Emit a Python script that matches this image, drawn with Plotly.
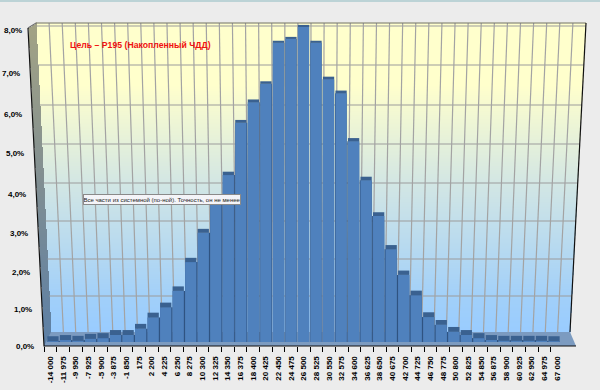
import numpy as np
import plotly.graph_objects as go

# ---- data ----
CATEGORIES = ["-14 000", "-11 975", "-9 950", "-7 925", "-5 900", "-3 875", "-1 850", "175", "2 200", "4 225",
              "6 250", "8 275", "10 300", "12 325", "14 350", "16 375", "18 400", "20 425", "22 450", "24 475",
              "26 500", "28 525", "30 550", "32 575", "34 600", "36 625", "38 650", "40 675", "42 700", "44 725",
              "46 750", "48 775", "50 800", "52 825", "54 850", "56 875", "58 900", "60 925", "62 950", "64 975",
              "67 000"]
VALUES = [0.02, 0.05, 0.03, 0.08, 0.10, 0.18, 0.18, 0.34, 0.63, 0.89,
          1.31, 2.05, 2.80, 3.56, 4.28, 5.62, 6.15, 6.62, 7.67, 7.77,
          8.08, 7.67, 6.74, 6.38, 5.15, 4.15, 3.23, 2.38, 1.72, 1.20,
          0.64, 0.44, 0.26, 0.18, 0.10, 0.05, 0.03, 0.03, 0.03, 0.03, 0.02]
Y_LABELS = ["0,0%", "1,0%", "2,0%", "3,0%", "4,0%", "5,0%", "6,0%", "7,0%", "8,0%"]
TITLE = "Цель – Р195 (Накопленный ЧДД)"
NOTE = "Все части из системной (по-ной). Точность, он не менее"

# ---- frame geometry (pixels of the 600x390 picture) ----
W, H = 600, 390
WALL_TOP, WALL_BOTTOM = 23, 332
WALL_TL, WALL_TR, WALL_BL, WALL_BR = 36, 586, 51, 570
FRONT_Y = 346
FRONT_L, FRONT_R = 44, 576
LABEL_Y = [346, 309, 272, 233, 194, 154, 114, 73, 31]
LABEL_RIGHT = [36, 34, 32, 30, 28, 26, 24, 22, 24]
WALL_GRID_Y = [296, 259, 221, 183, 144, 105, 65, 26]
N_SLOTS = 42
BAR_BASE = 342
PX_PER_UNIT = 39
BAR_L, BAR_R = 46.7, 572.8
BAR_W = 0.9


def wall_left(y):
    return WALL_TL + (WALL_BL - WALL_TL) * (y - WALL_TOP) / (WALL_BOTTOM - WALL_TOP)


def wall_right(y):
    return WALL_TR + (WALL_BR - WALL_TR) * (y - WALL_TOP) / (WALL_BOTTOM - WALL_TOP)


def edge_left(y):
    return 28 + (FRONT_L - 28) * (y - 28) / (FRONT_Y - 28)


def slot_range(left_px, right_px):
    step = (right_px - left_px) / N_SLOTS
    start = -0.5 - left_px / step
    return [start, start + W / step]


fig = go.Figure()

# back wall gradient and left wall gradient as masked heatmaps on the pixel axes
ys = np.arange(WALL_TOP, WALL_BOTTOM + 1)
xs = np.arange(WALL_TL, WALL_TR + 1)
t = (ys - WALL_TOP) / (WALL_BOTTOM - WALL_TOP)
Z = np.tile(t[:, None], (1, len(xs)))
for i, y in enumerate(ys):
    Z[i, (xs < wall_left(y)) | (xs > wall_right(y))] = np.nan
fig.add_trace(go.Heatmap(x=xs, y=ys, z=Z, zmin=0, zmax=1, showscale=False, hoverinfo="skip",
                         colorscale=[[0, "#ffffcc"], [0.2, "#ffffcc"], [0.52, "#d2e6e4"],
                                     [0.9, "#a0cffa"], [1, "#99ccff"]]))

ys2 = np.arange(WALL_TOP, FRONT_Y + 1)
xs2 = np.arange(26, 54)
t2 = (ys2 - WALL_TOP) / (FRONT_Y - WALL_TOP)
Z2 = np.tile(t2[:, None], (1, len(xs2)))
for i, y in enumerate(ys2):
    lim_r = wall_left(y) if y <= WALL_BOTTOM else wall_left(WALL_BOTTOM) - (y - WALL_BOTTOM) * 0.5
    lim_l = max(edge_left(y), WALL_TL - (WALL_TL - 28) * (y - WALL_TOP) / 5 if y < 28 else 0)
    Z2[i, (xs2 < lim_l) | (xs2 > lim_r)] = np.nan
fig.add_trace(go.Heatmap(x=xs2, y=ys2, z=Z2, zmin=0, zmax=1, showscale=False, hoverinfo="skip",
                         colorscale=[[0, "#a3a384"], [0.5, "#808e92"], [1, "#5b7fa6"]]))

# floor
fig.add_trace(go.Scatter(x=[WALL_BL, WALL_BR, FRONT_R, FRONT_L, WALL_BL],
                         y=[WALL_BOTTOM, WALL_BOTTOM, FRONT_Y, FRONT_Y, WALL_BOTTOM],
                         mode="lines", fill="toself", fillcolor="#7c9bc0", line=dict(width=0),
                         hoverinfo="skip", showlegend=False))

# wall grid lines
gx, gy = [], []
for y in WALL_GRID_Y:
    gx += [wall_left(y), wall_right(y), None]
    gy += [y, y, None]
fig.add_trace(go.Scatter(x=gx, y=gy, mode="lines", line=dict(color="#9b9b9b", width=1.2),
                         hoverinfo="skip", showlegend=False))
vx, vy = [], []
for j in range(1, N_SLOTS):
    xt = WALL_TL + j * (WALL_TR - WALL_TL) / N_SLOTS
    xb = WALL_BL + j * (WALL_BR - WALL_BL) / N_SLOTS
    vx += [xt, xb, None]
    vy += [WALL_TOP, WALL_BOTTOM, None]
fig.add_trace(go.Scatter(x=vx, y=vy, mode="lines", line=dict(color="#a3a3a3", width=1.2),
                         hoverinfo="skip", showlegend=False))

# frame edges
fig.add_trace(go.Scatter(x=[28, WALL_TL, WALL_TR], y=[28, WALL_TOP, WALL_TOP], mode="lines",
                         line=dict(color="#6e6e6e", width=1.2), hoverinfo="skip", showlegend=False))
fig.add_trace(go.Scatter(x=[WALL_TR, WALL_BR], y=[WALL_TOP, WALL_BOTTOM], mode="lines",
                         line=dict(color="#111111", width=1.2), hoverinfo="skip", showlegend=False))
fig.add_trace(go.Scatter(x=[28, FRONT_L, FRONT_R], y=[28, FRONT_Y, FRONT_Y], mode="lines",
                         line=dict(color="#111111", width=1.2), hoverinfo="skip", showlegend=False))
fig.add_trace(go.Scatter(x=[0, W], y=[1, 1], mode="lines", line=dict(color="#bcd3d6", width=2),
                         hoverinfo="skip", showlegend=False))

# bars: side faces (wider the further a bar is from the centre), caps, front faces
idx = list(range(len(VALUES)))
peak = int(np.argmax(VALUES))
thick = [(5 - 3 * v / 8) / PX_PER_UNIT for v in VALUES]
side_w = [BAR_W + min(0.1, abs(k - peak) * 0.012) for k in idx]
side_off = [-BAR_W / 2 if k <= peak else BAR_W / 2 - w for k, w in zip(idx, side_w)]
fig.add_trace(go.Bar(x=idx, y=VALUES, width=side_w, offset=side_off,
                     marker=dict(color="#2f5381", line=dict(width=0)),
                     xaxis="x2", yaxis="y2", hoverinfo="skip", showlegend=False))
fig.add_trace(go.Bar(x=idx, y=VALUES, width=BAR_W, offset=-BAR_W / 2, marker=dict(color="#4f81bd", line=dict(width=0)),
                     xaxis="x2", yaxis="y2", hoverinfo="skip", showlegend=False))
fig.add_trace(go.Bar(x=idx, y=thick, base=VALUES, width=BAR_W, offset=-BAR_W / 2,
                     marker=dict(color="#3a6190", line=dict(width=0)),
                     xaxis="x2", yaxis="y2", hoverinfo="skip", showlegend=False))

# axes helpers: carriers for the tick axes
fig.add_trace(go.Scatter(x=idx, y=VALUES, mode="none", xaxis="x3", yaxis="y2", hoverinfo="skip", showlegend=False))
fig.add_trace(go.Scatter(x=idx, y=VALUES, mode="none", xaxis="x4", yaxis="y2", hoverinfo="skip", showlegend=False))

hidden = dict(visible=False, showgrid=False, zeroline=False, fixedrange=True)
axis_pos = (H - FRONT_Y) / H
fig.update_layout(
    width=W, height=H, margin=dict(l=0, r=0, t=0, b=0), autosize=False,
    paper_bgcolor="#ececec", plot_bgcolor="rgba(0,0,0,0)", barmode="overlay", showlegend=False,
    font=dict(family="Liberation Sans", color="#000000"),
    xaxis=dict(range=[0, W], domain=[0, 1], **hidden),
    yaxis=dict(range=[H, 0], domain=[0, 1], **hidden),
    xaxis2=dict(range=slot_range(BAR_L, BAR_R), overlaying="x", anchor="y2", **hidden),
    yaxis2=dict(range=[(BAR_BASE - H) / PX_PER_UNIT, BAR_BASE / PX_PER_UNIT], overlaying="y",
                anchor="x2", **hidden),
    xaxis3=dict(range=slot_range(FRONT_L, FRONT_R), overlaying="x", anchor="free",
                position=axis_pos, showgrid=False, zeroline=False, showline=False, fixedrange=True,
                tickmode="array", tickvals=[k - 0.5 for k in idx], ticktext=["" for _ in idx],
                ticks="outside", ticklen=5, tickwidth=1, tickcolor="#000000"),
    xaxis4=dict(range=slot_range(FRONT_L, FRONT_R), overlaying="x", anchor="free",
                position=axis_pos, showgrid=False, zeroline=False, showline=False, fixedrange=True,
                tickmode="array", tickvals=idx, ticktext=CATEGORIES, tickangle=-90,
                ticks="outside", ticklen=6, tickcolor="rgba(0,0,0,0)",
                tickfont=dict(family="Liberation Sans", size=8, color="#000000", weight="bold")),
)

annotations = []
for text, y, xr in zip(Y_LABELS, LABEL_Y, LABEL_RIGHT):
    annotations.append(dict(text=f"<b>{text}</b>", x=xr / W, y=1 - y / H, xref="paper", yref="paper",
                            xanchor="right", yanchor="middle", showarrow=False,
                            font=dict(family="Liberation Sans", size=8, color="#000000")))
annotations.append(dict(text=f"<b>{TITLE}</b>", x=68 / W, y=1 - 45 / H, xref="paper", yref="paper",
                        xanchor="left", yanchor="middle", showarrow=False,
                        font=dict(family="Liberation Sans", size=8.7, color="#f01010")))
annotations.append(dict(text=NOTE, x=162 / W, y=1 - 199 / H, xref="paper", yref="paper",
                        xanchor="center", yanchor="middle", showarrow=False, width=156, height=9,
                        bgcolor="#f4f4f8", bordercolor="#8a8a8a", borderwidth=1, borderpad=0,
                        font=dict(family="Liberation Sans", size=6, color="#222222")))
fig.update_layout(annotations=annotations)

fig.write_html("out.html", config={"displayModeBar": False},
               post_script="document.body.style.margin='0';")
